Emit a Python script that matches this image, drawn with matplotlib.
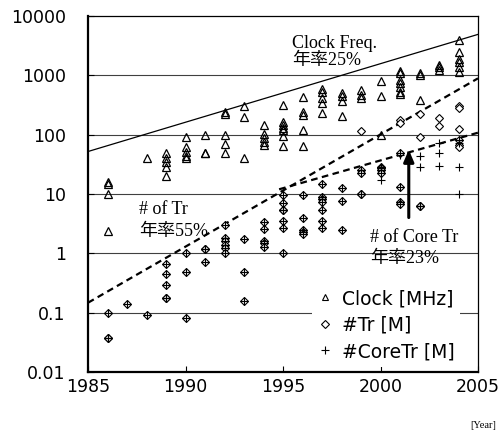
import numpy as np
import matplotlib
matplotlib.use("Agg")
import matplotlib.pyplot as plt
from matplotlib.lines import Line2D

# clock frequency [MHz]
clock_year = [1986, 1986, 1986, 1986, 1988,
              1989, 1989, 1989, 1989, 1989,
              1990, 1990, 1990, 1990, 1990,
              1991, 1991, 1991,
              1992, 1992, 1992, 1992, 1992,
              1993, 1993, 1993,
              1994, 1994, 1994, 1994, 1994,
              1995, 1995, 1995, 1995, 1995, 1995, 1995,
              1996, 1996, 1996, 1996, 1996,
              1997, 1997, 1997, 1997, 1997,
              1998, 1998, 1998, 1998,
              1999, 1999, 1999,
              2000, 2000, 2000,
              2001, 2001, 2001, 2001, 2001, 2001, 2001,
              2002, 2002, 2002,
              2003, 2003, 2003,
              2004, 2004, 2004, 2004, 2004, 2004]
clock_mhz = [16, 15, 10, 2.4, 40,
             50, 40, 34, 29, 20,
             92, 63, 52, 44, 40,
             98, 50, 50,
             244, 220, 99, 70, 50,
             304, 201, 40,
             145, 103, 87, 76, 67,
             316, 165, 145, 128, 120, 95, 64,
             437, 244, 214, 120, 64,
             580, 530, 410, 338, 235,
             500, 450, 370, 205,
             570, 470, 420,
             800, 450, 100,
             1180, 1090, 830, 730, 645, 530, 480,
             1090, 1000, 384,
             1490, 1360, 1230,
             3900, 2500, 1900, 1650, 1400, 1150]

# chips where core transistors == total transistors [M]
same_year = [1986, 1986, 1986, 1987, 1988,
             1989, 1989, 1989, 1989, 1989,
             1990, 1990, 1990,
             1991, 1991, 1991,
             1992, 1992, 1992, 1992, 1992, 1992,
             1993, 1993, 1993,
             1994, 1994, 1994, 1994, 1994,
             1995, 1995, 1995, 1995, 1995, 1995, 1995,
             1996, 1996, 1996, 1996, 1996,
             1997, 1997, 1997, 1997, 1997, 1997, 1997,
             1998, 1998, 1998,
             1999, 1999, 1999, 1999,
             2000, 2000, 2000, 2000,
             2001, 2001, 2001, 2001,
             2002, 2002]
same_tr = [0.1, 0.038, 0.038, 0.14, 0.092,
           0.66, 0.45, 0.29, 0.18, 0.18,
           1.0, 0.48, 0.08,
           1.17, 1.17, 0.72,
           3.0, 1.8, 1.6, 1.4, 1.22, 1.03,
           1.72, 0.49, 0.16,
           3.4, 2.6, 1.6, 1.48, 1.3,
           9.6, 7.1, 5.4, 5.4, 3.55, 2.65, 1.03,
           9.6, 3.9, 2.5, 2.3, 2.1,
           15, 9.0, 8.1, 7.4, 5.4, 3.55, 2.65,
           12.8, 7.7, 2.5,
           25, 23, 10, 10,
           29, 27, 25, 23,
           49, 13, 7.4, 6.8,
           6.2, 6.2]

# total transistors only (large caches)
tr_year = [1999, 2001, 2001, 2002, 2002, 2003, 2003,
           2004, 2004, 2004, 2004, 2004, 2004]
tr_only = [117, 175, 160, 220, 90, 190, 140,
           300, 285, 125, 81, 67, 61]

# core transistors only
core_year = [2000, 2001, 2002, 2002, 2003, 2003, 2003,
             2004, 2004, 2004, 2004]
core_only = [17, 45, 43, 28, 73, 50, 30,
             81, 73, 28, 10]

# trend lines
clock_trend_x = [1985, 2005]
clock_trend_y = [52, 4900]
tr_trend_x = [1985, 2005]
tr_trend_y = [0.147, 890]
core_trend_x = [1994.8, 2005]
core_trend_y = [12, 108]

plt.rcParams["font.family"] = ["DejaVu Sans"]
serif = ["Liberation Serif", "Noto Sans CJK JP"]

fig = plt.figure(figsize=(5.02, 4.33), dpi=100)
ax = fig.add_axes([88 / 502, 1 - 372 / 433, 390 / 502, 356 / 433])
ax.set_yscale("log")
ax.set_xlim(1985, 2005)
ax.set_ylim(0.01, 10000)

for v in [0.1, 1, 10, 100, 1000]:
    ax.axhline(v, color="0.25", lw=0.8, zorder=1)

ax.plot(clock_trend_x, clock_trend_y, color="black", lw=0.9, zorder=2)
ax.plot(tr_trend_x, tr_trend_y, color="black", lw=1.6, ls=(0, (3, 2)), zorder=2)
ax.plot(core_trend_x, core_trend_y, color="black", lw=1.6, ls=(0, (3, 2)), zorder=2)

ax.plot(clock_year, clock_mhz, ls="none", marker="^", ms=5.5, mfc="none",
        mec="black", mew=0.9, zorder=3)
ax.plot(same_year + tr_year, same_tr + tr_only, ls="none", marker="D", ms=3.8,
        mfc="white", mec="black", mew=0.8, zorder=3)
ax.plot(same_year + core_year, same_tr + core_only, ls="none", marker="+", ms=5.5,
        mec="black", mew=0.8, zorder=4)

ax.annotate("", xy=(2001.45, 62), xytext=(2001.45, 3.6),
            arrowprops=dict(arrowstyle="-|>,head_length=0.7,head_width=0.3",
                            color="black", lw=2.2), zorder=5)

ax.text(1995.45, 3500, "Clock Freq.", family=serif, fontsize=13, va="center")
ax.text(1995.45, 1800, "年率25%", family=serif, fontsize=13, va="center")
ax.text(1987.6, 5.4, "# of Tr", family=serif, fontsize=13, va="center")
ax.text(1987.6, 2.3, "年率55%", family=serif, fontsize=13, va="center")
ax.text(1999.45, 1.86, "# of Core Tr", family=serif, fontsize=13, va="center")
ax.text(1999.45, 0.82, "年率23%", family=serif, fontsize=13, va="center")

handles = [
    Line2D([], [], ls="none", marker="^", ms=5, mfc="none", mec="black", mew=0.8),
    Line2D([], [], ls="none", marker="D", ms=4, mfc="none", mec="black", mew=0.8),
    Line2D([], [], ls="none", marker="+", ms=6, mec="black", mew=0.8),
]
leg = ax.legend(handles, ["Clock [MHz]", "#Tr [M]", "#CoreTr [M]"],
                loc="lower right", bbox_to_anchor=(0.955, 0.015),
                borderaxespad=0, frameon=True, fancybox=False,
                handlelength=0.8, handletextpad=0.5, labelspacing=0.4,
                prop={"size": 13.5}, borderpad=0.3)
leg.get_frame().set_facecolor("white")
leg.get_frame().set_edgecolor("none")
leg.get_frame().set_alpha(1)
leg.set_zorder(6)

ax.set_xticks([1985, 1990, 1995, 2000, 2005])
ax.set_yticks([0.01, 0.1, 1, 10, 100, 1000, 10000])
ax.set_yticklabels(["0.01", "0.1", "1", "10", "100", "1000", "10000"])
ax.minorticks_off()
ax.tick_params(axis="both", direction="in", labelsize=12.5, length=4)
ax.tick_params(axis="y", pad=16)
ax.tick_params(axis="x", pad=4)
for side in ["left", "bottom"]:
    ax.spines[side].set_linewidth(1.6)
for side in ["top", "right"]:
    ax.spines[side].set_linewidth(0.9)

fig.text(483 / 502, 1 - 425 / 433, "[Year]", family=serif, fontsize=7.5,
         ha="center", va="center")

fig.savefig("out.png", dpi=100)
